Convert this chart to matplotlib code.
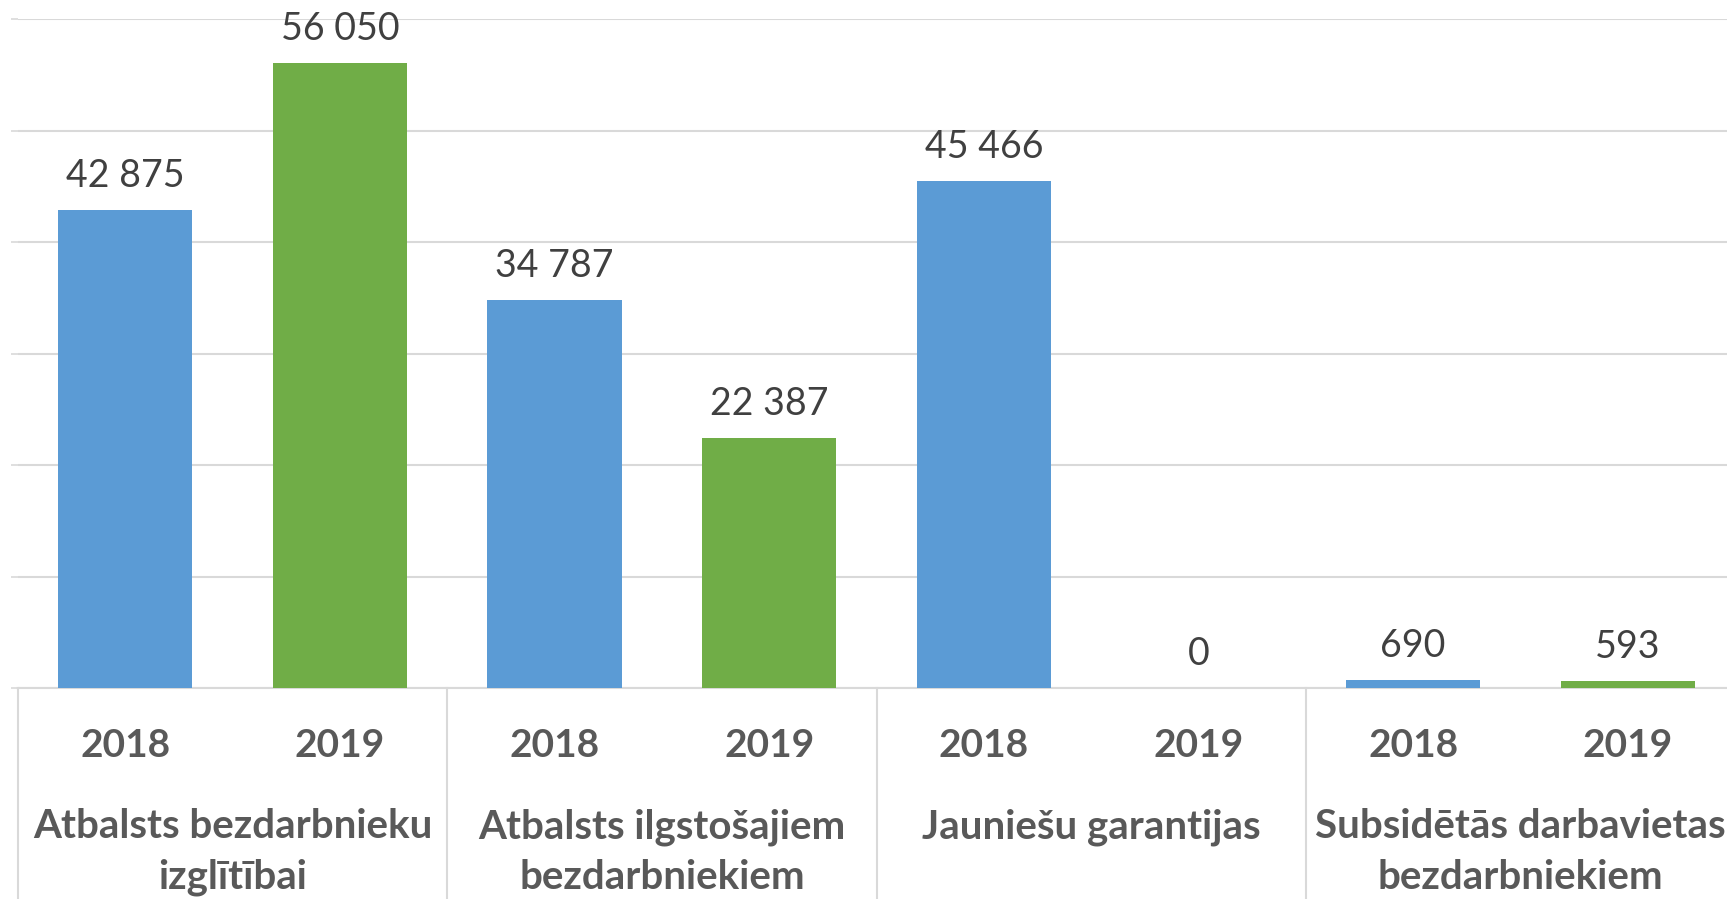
import numpy as np
import matplotlib
matplotlib.use('Agg')
import matplotlib.pyplot as plt

plt.rcParams['font.family'] = ['Lato', 'DejaVu Sans']

categories = ['Atbalsts bezdarbnieku\nizglītībai',
              'Atbalsts ilgstošajiem\nbezdarbniekiem',
              'Jauniešu garantijas',
              'Subsidētās darbavietas\nbezdarbniekiem']
years = ['2018', '2019']
values_2018 = [42875, 34787, 45466, 690]
values_2019 = [56050, 22387, 0, 593]
colors = {'2018': '#5B9BD5', '2019': '#70AD47'}

fig = plt.figure(figsize=(17.27, 8.99), dpi=100)
ax = fig.add_axes([18 / 1727, 1 - 688 / 899, 1717 / 1727, 669 / 899])

n_groups = len(categories)
n_years = len(years)
pos, vals, cols, ylabels = [], [], [], []
for g in range(n_groups):
    for k, (yr, series) in enumerate(zip(years, [values_2018, values_2019])):
        pos.append(g * n_years + k)
        vals.append(series[g])
        cols.append(colors[yr])
        ylabels.append(yr)

ax.bar(pos, vals, width=0.625, color=cols, zorder=3)

for x, v in zip(pos, vals):
    lab = f'{v:,}'.replace(',', ' ')
    ax.annotate(lab, (x, v), xytext=(0, 34), textcoords='offset pixels',
                ha='center', va='center', fontsize=27, color='#404040',
                annotation_clip=False)

ax.set_xlim(-0.5, n_groups * n_years - 0.5)
ax.set_ylim(0, 60000)
ax.set_yticks(np.arange(0, 60001, 10000))
ax.set_yticklabels([])
ax.yaxis.grid(True, color='#d9d9d9', linewidth=1.5, zorder=0)
ax.tick_params(axis='y', length=5, width=1.2, color='#d9d9d9')

ax.set_xticks(pos)
ax.set_xticklabels(ylabels, fontsize=28, fontweight='bold', color='#595959')
ax.tick_params(axis='x', length=0, pad=29)

for s in ['top', 'right', 'left']:
    ax.spines[s].set_visible(False)
ax.spines['bottom'].set_color('#d9d9d9')
ax.spines['bottom'].set_linewidth(1.5)

tr = ax.get_xaxis_transform()
for g in range(n_groups + 1):
    xb = g * n_years - 0.5
    ax.plot([xb, xb], [0, -0.5], transform=tr, color='#d9d9d9',
            linewidth=1.5, clip_on=False)

for g, cat in enumerate(categories):
    xc = g * n_years + (n_years - 1) / 2
    ax.text(xc, -0.18, cat, transform=tr, ha='center', va='top',
            fontsize=29, fontweight='bold', color='#595959', linespacing=1.45)

fig.savefig('out.png', dpi=100)
